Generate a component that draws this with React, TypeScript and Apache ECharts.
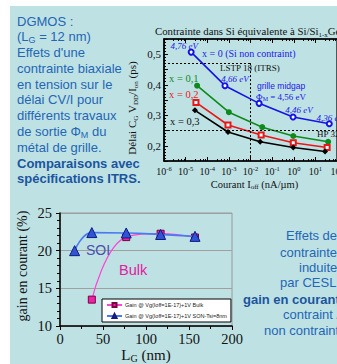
import React, { useEffect, useRef } from "react";
import * as echarts from "echarts";

// ---- Top chart: CV/I delay vs Ioff ----
const ioffBlue = [1.8e-5, 6.6e-4, 0.025, 0.93, 44];
const delayBlue = [0.507, 0.397, 0.339, 0.294, 0.272];
const ioffGreen = [3.4e-5, 1.0e-3, 0.035, 0.95, 39];
const delayGreen = [0.397, 0.31, 0.261, 0.232, 0.213];
const ioffRed = [3.0e-5, 9.1e-4, 0.031, 0.95, 35];
const delayRed = [0.342, 0.268, 0.235, 0.21, 0.194];
const ioffBlack = [2.7e-5, 9.1e-4, 0.028, 0.95, 28];
const delayBlack = [0.316, 0.245, 0.213, 0.194, 0.181];
const workFunctionLabels = ["4,76 eV", "4,66 eV", "4,56 eV", "4,46 eV", "4,36 eV"];
const seriesNamesTop = ["x = 0 (Si non contraint)", "x = 0,1", "x = 0,2", "x = 0,3"];
const lstpDelay = 0.471;
const lstpIoff = 1e-2;
const hpDelay = 0.249;
const ioffMin = 1e-6;
const ioffMax = 1e2;
const delayMin = 0.15;
const delayMax = 0.55;

// ---- Bottom chart: current gain vs LG ----
const lgSOI = [17, 37, 77, 117, 157];
const gainSOI = [20.0, 22.4, 22.35, 22.15, 21.9];
const lgBulk = [37, 77, 117, 157];
const gainBulk = [13.5, 21.8, 22.25, 21.75];
const legendBulk = "Gain @ Vg(Ioff=1E-17)+1V Bulk";
const legendSOI = "Gain @ Vg(Ioff=1E-17)+1V SON-Tsi=8nm";

// ---- Texts ----
const introLines = [
  "DGMOS :",
  "(L{s|G} = 12 nm)",
  "Effets d'une",
  "contrainte biaxiale",
  "en tension sur le",
  "délai CV/I pour",
  "différents travaux",
  "de sortie Φ{s|M} du",
  "métal de grille.",
];
const introBold = ["Comparaisons avec", "spécifications ITRS."];
const rightLines = [
  "Effets des",
  "contraintes",
  "induites",
  "par CESL :",
  "gain en courant",
  "contraint /",
  "non contraint",
];

const sans = "'Liberation Sans', Arial, sans-serif";
const serif = "'Liberation Serif', 'Times New Roman', serif";

const zip = (xs: number[], ys: number[]) => xs.map((x, i) => [x, ys[i]]);

function txt(x: number, y: number, text: string, o: any = {}) {
  const fs = o.fontSize ?? 13;
  const fill = o.fill ?? "#000";
  const ff = o.fontFamily ?? sans;
  const style: any = {
    text,
    fill,
    fontSize: fs,
    fontFamily: ff,
    fontWeight: o.fontWeight ?? "normal",
    fontStyle: o.fontStyle ?? "normal",
    align: o.align ?? "left",
    verticalAlign: "middle",
    textAlign: o.align ?? "left",
    textVerticalAlign: "middle",
    lineHeight: o.lineHeight ?? Math.round(fs * 1.25),
    rich: {
      s: {
        fontSize: Math.round(fs * 0.68),
        fontFamily: ff,
        fontWeight: o.fontWeight ?? "normal",
        fill,
        verticalAlign: "bottom",
        lineHeight: Math.round(fs * 0.68),
      },
    },
  };
  return {
    type: "text",
    x,
    y,
    rotation: o.rotation ?? 0,
    silent: true,
    z: 100,
    style,
  };
}

export default function App() {
  const ref = useRef<HTMLDivElement>(null);

  useEffect(() => {
    if (!ref.current) return;
    const chart = echarts.init(ref.current, undefined, { renderer: "svg" });

    const blueOffsets = [
      [-7, -6],
      [10, -7],
      [22, -12],
      [6, -7],
      [1, -6],
    ];

    const blueData = ioffBlue.map((x, i) => ({
      value: [x, delayBlue[i]],
      label: {
        show: true,
        position: "inside",
        offset: blueOffsets[i],
        color: "#2020e8",
        fontFamily: serif,
        fontStyle: i === 2 ? "normal" : "italic",
        fontSize: 9,
        lineHeight: 10,
        formatter:
          i === 2
            ? "{a|grille midgap}\n{b|Φ}{bs|M}{b| = " + workFunctionLabels[i] + "}"
            : workFunctionLabels[i],
        rich: {
          a: { fontFamily: sans, fontSize: 8.5, color: "#2020e8", lineHeight: 11 },
          b: { fontFamily: serif, fontSize: 9, color: "#2020e8", lineHeight: 11 },
          bs: {
            fontFamily: serif,
            fontSize: 6,
            color: "#2020e8",
            verticalAlign: "bottom",
            lineHeight: 7,
          },
        },
      },
    }));

    const intro = [
      ...introLines.map((t, i) =>
        txt(17, 21 + i * 15.75, t, { fill: "#2466b4", fontSize: 13 })
      ),
      ...introBold.map((t, i) =>
        txt(17, 163 + i * 15.6, t, { fill: "#1b559e", fontSize: 13, fontWeight: "bold" })
      ),
    ];

    const rightStarts = [286, 280, 299, 280, 243, 283, 264];
    const rightYs = [235, 252, 267, 282, 299, 314, 330];
    const right = rightLines.map((t, i) =>
      txt(rightStarts[i], rightYs[i], t, {
        fill: i === 4 ? "#1b559e" : "#2466b4",
        fontSize: 13,
        fontWeight: i === 4 ? "bold" : "normal",
      })
    );

    const option: any = {
      animation: false,
      backgroundColor: "transparent",
      grid: [
        {
          left: 164,
          top: 39,
          width: 173,
          height: 122,
          show: true,
          borderColor: "#000",
          borderWidth: 1.2,
          backgroundColor: "transparent",
          containLabel: false,
          outerBoundsMode: "none",
        },
        {
          left: 60,
          top: 213,
          width: 172,
          height: 113,
          show: true,
          borderColor: "#9a9a9a",
          borderWidth: 1,
          backgroundColor: "transparent",
          containLabel: false,
          outerBoundsMode: "none",
        },
      ],
      xAxis: [
        {
          type: "log",
          logBase: 10,
          gridIndex: 0,
          min: ioffMin,
          max: ioffMax,
          position: "bottom",
          axisLine: { show: true, lineStyle: { color: "#000", width: 1.5 } },
          axisTick: { show: true, inside: true, length: 4, lineStyle: { color: "#000" } },
          minorTick: { show: true, splitNumber: 5, length: 2, lineStyle: { color: "#000" } },
          splitLine: { show: false },
          axisLabel: {
            margin: 4,
            color: "#111",
            fontFamily: serif,
            fontSize: 10,
            lineHeight: 12,
            formatter: (v: number) => "10{sup|" + Math.round(Math.log10(v)) + "}",
            rich: {
              sup: { fontFamily: serif, fontSize: 6.5, verticalAlign: "top", lineHeight: 7, color: "#111" },
            },
          },
          name: "Courant I{s|off} (nA/µm)",
          nameLocation: "middle",
          nameGap: 16,
          nameTextStyle: {
            color: "#111",
            fontFamily: serif,
            fontSize: 10.5,
            lineHeight: 13,
            padding: [0, 0, 0, 8],
            rich: {
              s: { fontFamily: serif, fontSize: 7, verticalAlign: "bottom", lineHeight: 7, color: "#111" },
            },
          },
        },
        {
          type: "log",
          logBase: 10,
          gridIndex: 0,
          min: ioffMin,
          max: ioffMax,
          position: "top",
          axisLine: { show: true, lineStyle: { color: "#000", width: 1.5 } },
          axisTick: { show: true, inside: true, length: 4, lineStyle: { color: "#000" } },
          minorTick: { show: true, splitNumber: 5, length: 2, lineStyle: { color: "#000" } },
          splitLine: { show: false },
          axisLabel: { show: false },
        },
        {
          type: "value",
          gridIndex: 1,
          min: 0,
          max: 200,
          interval: 50,
          axisLine: { show: true, lineStyle: { color: "#000", width: 1.5 } },
          axisTick: { show: true, length: 4, lineStyle: { color: "#000" } },
          minorTick: { show: true, splitNumber: 2, length: 3, lineStyle: { color: "#000" } },
          splitLine: { show: false },
          axisLabel: { margin: 5, color: "#111", fontFamily: serif, fontSize: 14.5 },
          name: "L{s|G} (nm)",
          nameLocation: "middle",
          nameGap: 20,
          nameTextStyle: {
            color: "#111",
            fontFamily: serif,
            fontSize: 15,
            lineHeight: 17,
            rich: {
              s: { fontFamily: serif, fontSize: 10, verticalAlign: "bottom", lineHeight: 10, color: "#111" },
            },
          },
        },
      ],
      yAxis: [
        {
          type: "value",
          gridIndex: 0,
          min: delayMin,
          max: delayMax,
          interval: 0.05,
          axisLine: { show: true, lineStyle: { color: "#000", width: 1.5 } },
          axisTick: { show: true, inside: true, length: 4, lineStyle: { color: "#000" } },
          minorTick: { show: true, splitNumber: 5, length: 2, lineStyle: { color: "#000" } },
          splitLine: { show: false },
          axisLabel: {
            margin: 3,
            color: "#111",
            fontFamily: serif,
            fontSize: 11,
            formatter: (v: number) =>
              Math.abs(v * 10 - Math.round(v * 10)) < 1e-6 ? v.toFixed(1).replace(".", ",") : "",
          },
        },
        {
          type: "value",
          gridIndex: 1,
          min: 10,
          max: 25,
          interval: 5,
          axisLine: { show: true, lineStyle: { color: "#000", width: 1.5 } },
          axisTick: { show: true, length: 4, lineStyle: { color: "#000" } },
          minorTick: { show: true, splitNumber: 5, length: 3, lineStyle: { color: "#000" } },
          splitLine: { show: true, lineStyle: { color: "#a0a0a0", width: 1 } },
          axisLabel: { margin: 8, color: "#111", fontFamily: serif, fontSize: 14.5 },
        },
      ],
      legend: {
        data: [legendBulk, legendSOI],
        left: 102,
        top: 299,
        orient: "vertical",
        itemWidth: 15,
        itemHeight: 5,
        itemGap: 5,
        padding: [3, 4, 3, 4],
        backgroundColor: "#ffffff",
        borderColor: "#000",
        borderWidth: 1,
        textStyle: { fontSize: 5.5, fontFamily: sans, color: "#222", padding: [0, 0, 0, -2] },
      },
      graphic: [
        ...intro,
        ...right,
        txt(155, 31, "Contrainte dans Si équivalente à Si/Si{s|1-x}Ge{s|x}", {
          fontFamily: serif,
          fontSize: 10.8,
          fill: "#111",
        }),
        txt(132, 108, "Délai C{s|G} V{s|DD}/I{s|on} (ps)", {
          fontFamily: serif,
          fontSize: 11,
          fill: "#111",
          align: "center",
          rotation: Math.PI / 2,
        }),
        txt(202, 53, seriesNamesTop[0], { fontFamily: serif, fontSize: 10, fill: "#2020e8" }),
        txt(169, 78, seriesNamesTop[1], { fontFamily: serif, fontSize: 10.5, fill: "#0f8a1a" }),
        txt(169, 94, seriesNamesTop[2], { fontFamily: serif, fontSize: 10.5, fill: "#e81818" }),
        txt(170, 121, seriesNamesTop[3], { fontFamily: serif, fontSize: 10.5, fill: "#111" }),
        txt(220, 68, "LSTP 18 (ITRS)", { fontFamily: serif, fontSize: 9, fill: "#111" }),
        txt(317, 134, "HP 32", { fontFamily: serif, fontSize: 9, fill: "#111" }),
        txt(22, 266, "gain en courant (%)", {
          fontFamily: serif,
          fontSize: 14,
          fill: "#111",
          align: "center",
          rotation: Math.PI / 2,
        }),
        txt(86, 250, "SOI", { fontFamily: sans, fontSize: 14, fill: "#4a4fae" }),
        txt(119, 270, "Bulk", { fontFamily: sans, fontSize: 14.5, fill: "#e0209f" }),
      ],
      series: [
        {
          name: seriesNamesTop[0],
          type: "line",
          xAxisIndex: 0,
          yAxisIndex: 0,
          data: blueData,
          symbol: "emptyCircle",
          symbolSize: 5,
          itemStyle: { color: "#1414e6", borderWidth: 1.5 },
          lineStyle: { color: "#1414e6", width: 1.6 },
          z: 5,
        },
        {
          name: seriesNamesTop[1],
          type: "line",
          xAxisIndex: 0,
          yAxisIndex: 0,
          data: zip(ioffGreen, delayGreen),
          symbol: "circle",
          symbolSize: 6,
          itemStyle: { color: "#0f8a1a" },
          lineStyle: { color: "#0f8a1a", width: 1.6 },
          z: 4,
        },
        {
          name: seriesNamesTop[2],
          type: "line",
          xAxisIndex: 0,
          yAxisIndex: 0,
          data: zip(ioffRed, delayRed),
          symbol: "emptyRect",
          symbolSize: 5,
          itemStyle: { color: "#e81818", borderWidth: 1.5 },
          lineStyle: { color: "#e81818", width: 1.6 },
          z: 4,
        },
        {
          name: seriesNamesTop[3],
          type: "line",
          xAxisIndex: 0,
          yAxisIndex: 0,
          data: zip(ioffBlack, delayBlack),
          symbol: "diamond",
          symbolSize: 6,
          itemStyle: { color: "#000" },
          lineStyle: { color: "#000", width: 1.6 },
          z: 4,
          markLine: {
            silent: true,
            symbol: "none",
            label: { show: false },
            lineStyle: { color: "#000", type: [2, 2], width: 1 },
            data: [
              [{ coord: [ioffMin, lstpDelay] }, { coord: [lstpIoff, lstpDelay] }],
              [{ coord: [lstpIoff, lstpDelay] }, { coord: [lstpIoff, delayMin] }],
              { yAxis: hpDelay },
            ],
          },
        },
        {
          name: legendBulk,
          type: "line",
          xAxisIndex: 2,
          yAxisIndex: 1,
          data: zip(lgBulk, gainBulk),
          smooth: 0.45,
          symbol: "rect",
          symbolSize: 7,
          itemStyle: { color: "#ee22aa", borderColor: "#7a0040", borderWidth: 1 },
          lineStyle: { color: "#ff44d4", width: 1.2 },
          z: 4,
        },
        {
          name: legendSOI,
          type: "line",
          xAxisIndex: 2,
          yAxisIndex: 1,
          data: zip(lgSOI, gainSOI),
          smooth: 0.45,
          symbol: "triangle",
          symbolSize: 10,
          itemStyle: { color: "#2f55d6", borderColor: "#101a80", borderWidth: 1 },
          lineStyle: { color: "#4a7af2", width: 1.6 },
          z: 5,
        },
      ],
    };

    chart.setOption(option);
    return () => chart.dispose();
  }, []);

  return (
    <div
      style={{
        position: "fixed",
        left: 0,
        top: 0,
        width: 337,
        height: 364,
        background: "#ffffff",
        overflow: "hidden",
      }}
    >
      <div
        style={{
          position: "absolute",
          left: 10,
          top: 6,
          width: 327,
          height: 358,
          background: "#bee1e4",
        }}
      />
      <div ref={ref} style={{ position: "absolute", left: 0, top: 0, width: 337, height: 364 }} />
    </div>
  );
}
